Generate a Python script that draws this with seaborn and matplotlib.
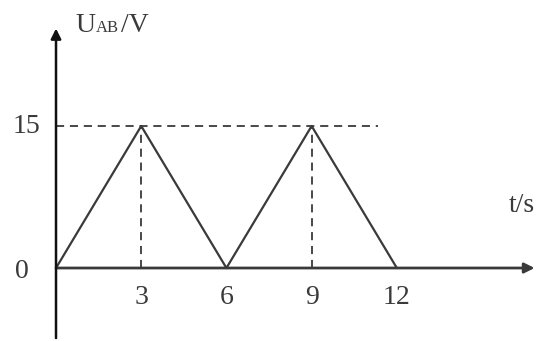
import numpy as np
import pandas as pd
import matplotlib.pyplot as plt
import seaborn as sns

# values
t_vals = [0, 3, 6, 9, 12]
u_vals = [0, 15, 0, 15, 0]
x_ticks = [3, 6, 9, 12]
peak_times = [3, 9]
peak_u = 15

sns.set_style('white')
plt.rcParams['font.family'] = ['Liberation Serif', 'DejaVu Serif']

df = pd.DataFrame({'t': t_vals, 'u': u_vals})

fig = plt.figure(figsize=(5.4, 3.41), dpi=100)
ax = fig.add_axes([0, 0, 1, 1])
ax.set_xlim(-1.972, 17.04)
ax.set_ylim(-7.71, 28.31)
ax.axis('off')

ink = '#3a3a3a'

# triangle wave
sns.lineplot(data=df, x='t', y='u', ax=ax, color=ink, linewidth=1.6)

# dashed guides
dash = (0, (4.5, 3.2))
ax.plot([0, 11.35], [peak_u, peak_u], ls=dash, color=ink, lw=1.3)
for tp in peak_times:
    ax.plot([tp, tp], [0, peak_u], ls=dash, color=ink, lw=1.3)

# axes with arrows
ax.annotate('', xy=(16.85, 0), xytext=(0, 0),
            arrowprops=dict(arrowstyle='-|>', color=ink, lw=2, mutation_scale=15,
                            shrinkA=0, shrinkB=0))
ax.annotate('', xy=(0, 25.3), xytext=(0, -7.4),
            arrowprops=dict(arrowstyle='-|>', color='#111111', lw=1.8, mutation_scale=15,
                            shrinkA=0, shrinkB=0))

fs = 20
for xt in x_ticks:
    ax.text(xt, -3.1, str(xt), ha='center', va='center', fontsize=fs, color=ink)
ax.text(-1.2, -0.4, '0', ha='center', va='center', fontsize=fs, color=ink)
ax.text(-0.55, 15, '15', ha='right', va='center', fontsize=fs, color=ink)
ax.text(16.4, 6.6, 't/s', ha='center', va='center', fontsize=fs, color=ink)

# y label: U with small AB then /V
ax.text(0.67, 24.9, 'U', ha='left', va='baseline', fontsize=fs, color=ink)
ax.text(1.4, 24.9, 'AB', ha='left', va='baseline', fontsize=12, color=ink)
ax.text(2.3, 24.9, '/V', ha='left', va='baseline', fontsize=fs, color=ink)

fig.savefig('out.png', dpi=100)
